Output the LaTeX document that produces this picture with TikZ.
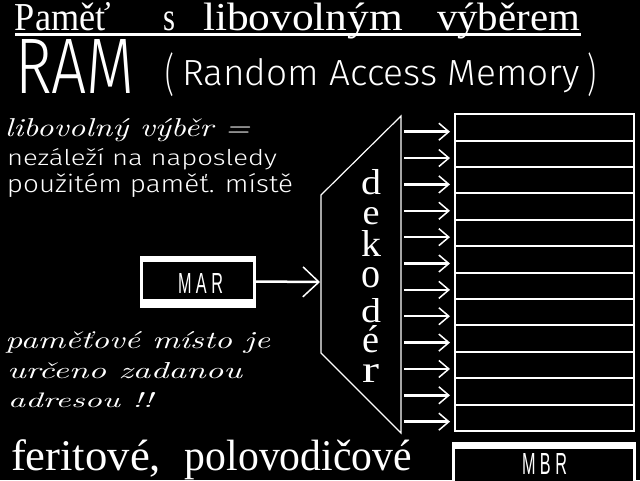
\documentclass[tikz,border=0pt]{standalone}
\usepackage{fontspec}
\usepackage{graphicx}
\usetikzlibrary{arrows.meta}
\newfontfamily\serf{Liberation Serif}
\newfontfamily\thinf{Fira Sans Light}
\newfontfamily\narf{Liberation Sans}
\newcommand\declet[3]{\resizebox{#1pt}{#2pt}{\serf #3}}
\newcommand\tw[2]{\resizebox{#1pt}{1.32\height}{#2}}
\newcommand\fw[2]{\resizebox{#1pt}{1.46\height}{#2}}
\begin{document}
\begin{tikzpicture}[x=1pt,y=-1pt,
  every node/.style={inner sep=0pt, outer sep=0pt, text=white},
  tx/.style={anchor=base west},
  lt/.style={anchor=base},
  cell/.style={draw=white, line width=2pt, minimum width=179pt, minimum height=26.39pt},
  smallarr/.style={draw=white, line width=2.5pt, -{Straight Barb[length=10pt,width=17pt,line width=1.5pt]}},
  bigarr/.style={draw=white, line width=2.5pt, -{Straight Barb[length=16pt,width=30pt,line width=1.5pt]}},
  deco/.style={draw=white, line width=1.2pt}
]
\fill[black] (0,0) rectangle (640,480);
\clip (0,0) rectangle (640,480);

% title
\node[tx] (title) at (15,30) {\fontsize{30}{30}\serf\tw{96}{Paměť}\hspace{52pt}\tw{12}{s}\hspace{28pt}\tw{200}{libovolným}\hspace{34pt}\tw{143}{výběrem}};
\coordinate (ul1) at (15,34.5);
\coordinate (ul2) at (581,34.5);
\draw[white, line width=2.5pt] (ul1) -- (ul2);

\node[tx] (ram) at (15,93) {\resizebox{120pt}{54pt}{\thinf RAM}};
\node (lp) at (170,75) {\resizebox*{9pt}{44pt}{\thinf (}};
\node[tx] (rand) at (182,85) {\resizebox{398pt}{27pt}{\thinf Random Access Memory}};
\node (rp) at (592,75) {\resizebox*{9pt}{44pt}{\thinf )}};

% left texts
\node[tx] (t1) at (5,136) {\resizebox{245pt}{18pt}{\itshape libovolný výběr =}};
\node[tx] (t2) at (7,165) {\resizebox{270pt}{17pt}{\thinf nezáleží na naposledy}};
\node[tx] (t3) at (7,192) {\resizebox{286pt}{19pt}{\thinf použitém paměť. místě}};

\node[tx] (t4) at (5,348) {\resizebox{265pt}{17pt}{\itshape paměťové místo je}};
\node[tx] (t5) at (7,378) {\resizebox{235pt}{16pt}{\itshape určeno zadanou}};
\node[tx] (t6) at (8,407) {\resizebox{145pt}{15pt}{\itshape adresou !!}};

\node[tx] (t7) at (11,470) {\fontsize{30}{30}\serf\fw{150}{feritové,}\hspace{24pt}\fw{227}{polovodičové}};

% MAR
\node (mar) [fill=white, minimum width=116pt, minimum height=52pt] at (198,281.5) {};
\node (marin) [fill=black, minimum width=110pt, minimum height=37pt] at (198,280.5) {};
\node (martx) at (200.5,283) {\resizebox{45pt}{20pt}{\narf M A R}};

% decoder
\coordinate (d1) at (321,195);
\coordinate (d2) at (401,116);
\coordinate (d3) at (401,433);
\coordinate (d4) at (321,353);
\draw[deco] (d1) -- (d2) -- (d3) -- (d4) -- cycle;
\coordinate (decin) at (320,282);
\draw[bigarr] (mar.east) -- (decin);

\node[lt] (l1) at (371,194) {\declet{20}{25}{d}};
\node[lt] (l2) at (371,224) {\declet{17}{17}{e}};
\node[lt] (l3) at (371,256) {\declet{20}{26}{k}};
\node[lt] (l4) at (371,287) {\declet{19}{20}{o}};
\node[lt] (l5) at (371,322) {\declet{20}{24}{d}};
\node[lt] (l6) at (371,352) {\declet{17}{27}{é}};
\node[lt] (l7) at (371,382) {\declet{17}{18}{r}};

% cells and arrows
\foreach \i in {0,...,11} {
  \node[cell] (c\i) at (544.5,{127.5+26.39*\i}) {};
  \coordinate (o\i) at (404,{131.7+26.36*\i});
  \coordinate (e\i) at (450,{131.7+26.36*\i});
  \draw[smallarr] (o\i) -- (e\i);
}

% MBR
\node (mbr) [fill=white, minimum width=184pt, minimum height=46pt, anchor=north west] at (452,442) {};
\node (mbrin) [fill=black, minimum width=178pt, minimum height=32pt, anchor=north west] at (455,449) {};
\node (mbrtx) at (544.5,463.5) {\resizebox{45pt}{21pt}{\narf M B R}};
\end{tikzpicture}
\end{document}
